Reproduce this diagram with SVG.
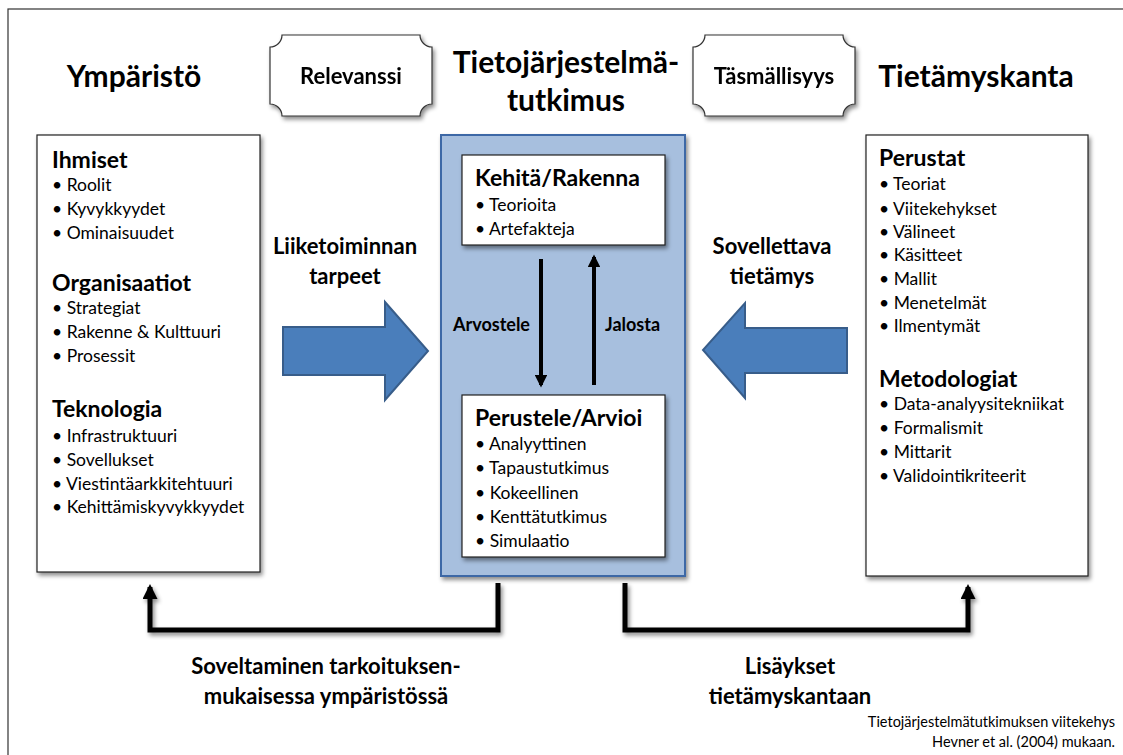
<svg xmlns="http://www.w3.org/2000/svg" width="1123" height="755" viewBox="0 0 1123 755">
  <defs>
    <filter id="shadow" x="-10%" y="-10%" width="130%" height="130%">
      <feDropShadow dx="2" dy="3" stdDeviation="2" flood-color="#000" flood-opacity="0.45"/>
    </filter>
    <marker id="head" viewBox="0 0 10 10" refX="8" refY="5" markerWidth="3.2" markerHeight="3.2" orient="auto" markerUnits="strokeWidth">
      <path d="M0,0 L10,5 L0,10 Z" fill="#000"/>
    </marker>
    <marker id="headBig" viewBox="0 0 10 10" refX="8" refY="5" markerWidth="3" markerHeight="3" orient="auto" markerUnits="strokeWidth">
      <path d="M0,0 L10,5 L0,10 Z" fill="#000"/>
    </marker>
  </defs>
  <style>
    text { font-family: Lato, "Liberation Sans", sans-serif; fill: #000; }
    .title { font-size: 30px; font-weight: bold; }
    .h { font-size: 23px; font-weight: bold; }
    .li { font-size: 17.5px; }
    .lbl { font-size: 22px; font-weight: bold; }
    .plq { font-size: 22px; font-weight: bold; }
    .small { font-size: 18px; font-weight: bold; }
    .note { font-size: 14.5px; }
    .box { fill: #fff; stroke: #222; stroke-width: 1.2; }
    .plaque { fill: #fff; stroke: #333; stroke-width: 1.2; }
    .bigArrow { fill: #4a7ebb; stroke: #385d8a; stroke-width: 2; }
    .conn { fill: none; stroke: #000; stroke-width: 5; }
  </style>

  <rect width="1123" height="755" fill="#fff"/>
  <!-- outer frame -->
  <rect x="8" y="9" width="1130" height="760" fill="none" stroke="#333" stroke-width="1.2"/>

  <!-- headings -->
  <text class="title" x="134" y="87" text-anchor="middle">Ympäristö</text>
  <text class="title" x="566" y="73" text-anchor="middle">Tietojärjestelmä-</text>
  <text class="title" x="566" y="111" text-anchor="middle">tutkimus</text>
  <text class="title" x="976" y="87" text-anchor="middle">Tietämyskanta</text>

  <g id="relevanssi" filter="url(#shadow)">
    <path class="plaque" d="M282,35 L420,35 A12,12 0 0 0 432,47 L432,104 A12,12 0 0 0 420,116 L282,116 A12,12 0 0 0 270,104 L270,47 A12,12 0 0 0 282,35 Z"/>
    <text class="plq" x="351" y="84" text-anchor="middle">Relevanssi</text>
  </g>
  <g id="tasmallisyys" filter="url(#shadow)">
    <path class="plaque" d="M705,35 L843,35 A12,12 0 0 0 855,47 L855,104 A12,12 0 0 0 843,116 L705,116 A12,12 0 0 0 693,104 L693,47 A12,12 0 0 0 705,35 Z"/>
    <text class="plq" x="774" y="84" text-anchor="middle">Täsmällisyys</text>
  </g>

  <!-- environment box -->
  <g id="ymparisto">
    <rect class="box" x="37" y="135" width="223" height="437" filter="url(#shadow)"/>
    <text class="h" x="52" y="168">Ihmiset</text>
    <text class="li" x="52" y="191">• Roolit</text>
    <text class="li" x="52" y="215">• Kyvykkyydet</text>
    <text class="li" x="52" y="239">• Ominaisuudet</text>
    <text class="h" x="52" y="291">Organisaatiot</text>
    <text class="li" x="52" y="314">• Strategiat</text>
    <text class="li" x="52" y="338">• Rakenne &amp; Kulttuuri</text>
    <text class="li" x="52" y="362">• Prosessit</text>
    <text class="h" x="52" y="417">Teknologia</text>
    <text class="li" x="52" y="442">• Infrastruktuuri</text>
    <text class="li" x="52" y="466">• Sovellukset</text>
    <text class="li" x="52" y="490">• Viestintäarkkitehtuuri</text>
    <text class="li" x="52" y="513">• Kehittämiskyvykkyydet</text>
  </g>

  <!-- research box -->
  <g id="tutkimus">
    <rect x="441" y="135" width="244" height="441" fill="#a7bfde" stroke="#3c68a6" stroke-width="2" filter="url(#shadow)"/>
  </g>
  <g id="kehita">
    <rect class="box" x="462" y="155" width="203" height="90" filter="url(#shadow)"/>
    <text class="h" x="475" y="186">Kehitä/Rakenna</text>
    <text class="li" x="475" y="211">• Teorioita</text>
    <text class="li" x="475" y="235">• Artefakteja</text>
  </g>
  <g id="perustele">
    <rect class="box" x="462" y="395" width="203" height="162" filter="url(#shadow)"/>
    <text class="h" x="475" y="426">Perustele/Arvioi</text>
    <text class="li" x="475" y="450">• Analyyttinen</text>
    <text class="li" x="475" y="474">• Tapaustutkimus</text>
    <text class="li" x="475" y="499">• Kokeellinen</text>
    <text class="li" x="475" y="523">• Kenttätutkimus</text>
    <text class="li" x="475" y="547">• Simulaatio</text>
  </g>

  <!-- knowledge base box -->
  <g id="tietamyskanta">
    <rect class="box" x="866" y="135" width="222" height="441" filter="url(#shadow)"/>
    <text class="h" x="879" y="166">Perustat</text>
    <text class="li" x="879" y="190">• Teoriat</text>
    <text class="li" x="879" y="215">• Viitekehykset</text>
    <text class="li" x="879" y="238">• Välineet</text>
    <text class="li" x="879" y="261">• Käsitteet</text>
    <text class="li" x="879" y="285">• Mallit</text>
    <text class="li" x="879" y="309">• Menetelmät</text>
    <text class="li" x="879" y="332">• Ilmentymät</text>
    <text class="h" x="879" y="387">Metodologiat</text>
    <text class="li" x="879" y="410">• Data-analyysitekniikat</text>
    <text class="li" x="879" y="434">• Formalismit</text>
    <text class="li" x="879" y="458">• Mittarit</text>
    <text class="li" x="879" y="482">• Validointikriteerit</text>
  </g>

  <!-- connectors -->
  <g id="connectors">
    <!-- business needs arrow -->
    <path class="bigArrow" d="M283,327 L385,327 L385,302 L428,351 L385,400 L385,375 L283,375 Z"/>
    <text class="lbl" x="345" y="254" text-anchor="middle">Liiketoiminnan</text>
    <text class="lbl" x="345" y="284" text-anchor="middle">tarpeet</text>
    <!-- applicable knowledge arrow -->
    <path class="bigArrow" d="M847,328 L745,328 L745,303 L703,350 L745,398 L745,373 L847,373 Z"/>
    <text class="lbl" x="772" y="254" text-anchor="middle">Sovellettava</text>
    <text class="lbl" x="772" y="284" text-anchor="middle">tietämys</text>

    <!-- assess / refine -->
    <line x1="541" y1="259" x2="541" y2="385" stroke="#000" stroke-width="4" marker-end="url(#head)"/>
    <line x1="594" y1="385" x2="594" y2="257" stroke="#000" stroke-width="4" marker-end="url(#head)"/>
    <text class="small" x="453" y="331">Arvostele</text>
    <text class="small" x="605" y="331">Jalosta</text>

    <!-- feedback to environment and knowledge base -->
    <g filter="url(#shadow)">
      <path class="conn" d="M498,583 L498,630 L150,630 L150,587" marker-end="url(#headBig)"/>
      <path class="conn" d="M625,583 L625,630 L968,630 L968,587" marker-end="url(#headBig)"/>
    </g>
    <text class="lbl" x="326" y="674" text-anchor="middle">Soveltaminen tarkoituksen-</text>
    <text class="lbl" x="326" y="704" text-anchor="middle">mukaisessa ympäristössä</text>
    <text class="lbl" x="790" y="674" text-anchor="middle">Lisäykset</text>
    <text class="lbl" x="790" y="704" text-anchor="middle">tietämyskantaan</text>
  </g>

  <text class="note" x="1115" y="727" text-anchor="end">Tietojärjestelmätutkimuksen viitekehys</text>
  <text class="note" x="1115" y="747" text-anchor="end">Hevner et al. (2004) mukaan.</text>
</svg>
